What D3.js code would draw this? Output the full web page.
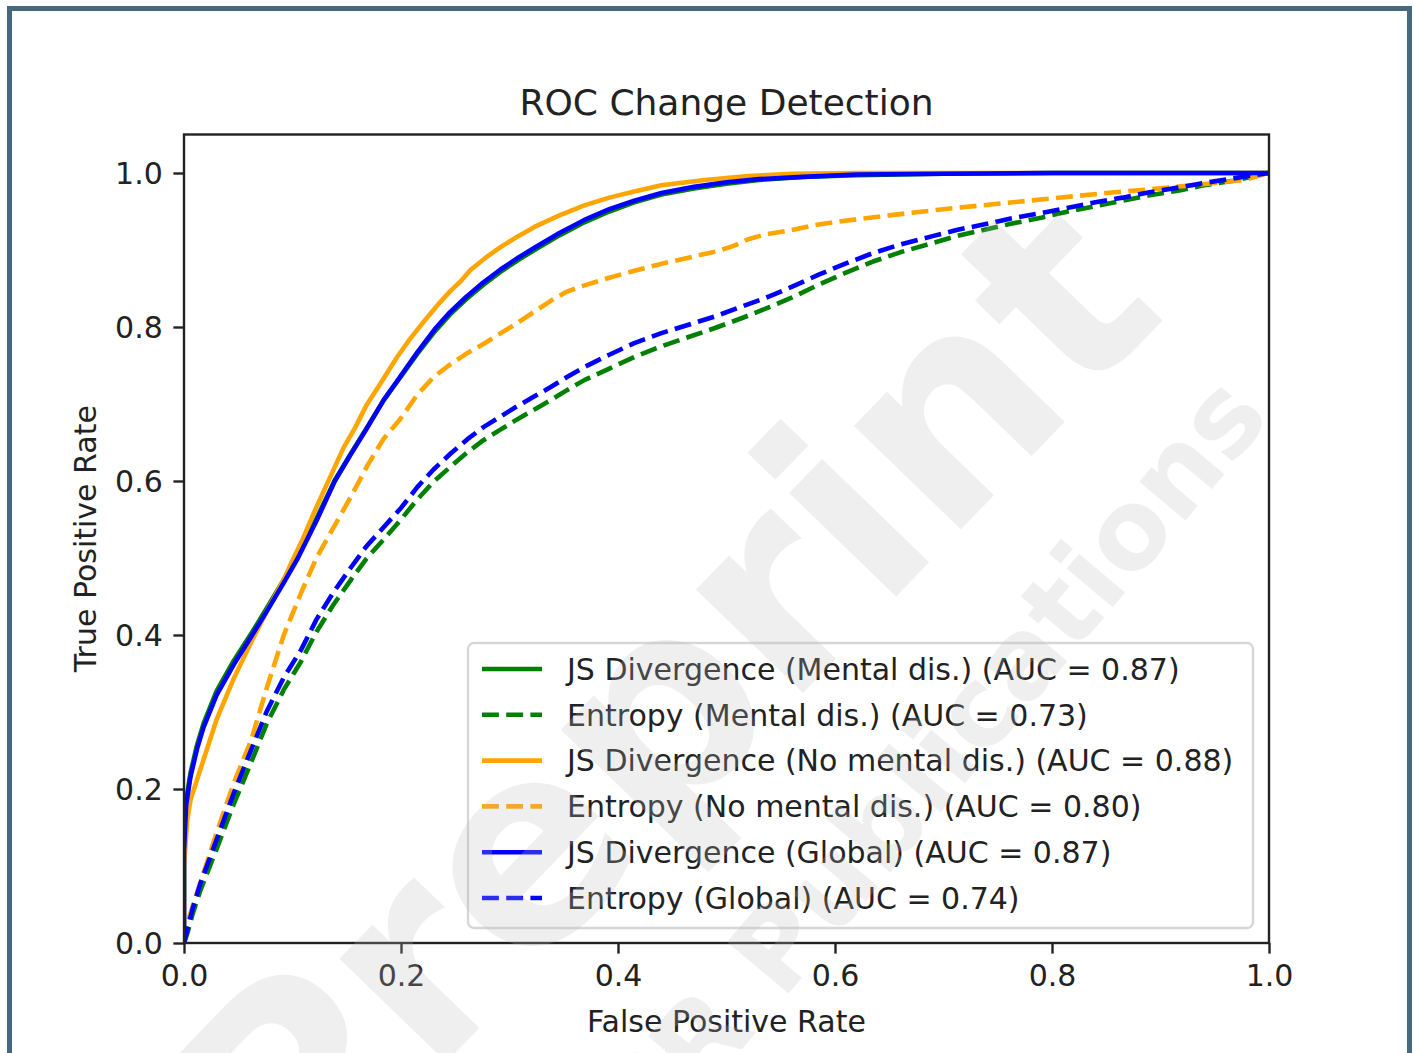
<!DOCTYPE html>
<html>
<head>
<meta charset="utf-8">
<script src="https://cdn.jsdelivr.net/npm/d3@7"></script>
<style>
  html, body { margin: 0; padding: 0; background: #ffffff; }
  svg { display: block; }
  text { font-family: "DejaVu Sans", sans-serif; fill: #222; }
</style>
</head>
<body>
<svg id="chart" width="1414" height="1053"></svg>
<script>
// ---------- data ----------
const chartTitle = "ROC Change Detection";
const xLabel = "False Positive Rate";
const yLabel = "True Positive Rate";
const xTicks = [0.0, 0.2, 0.4, 0.6, 0.8, 1.0];
const yTicks = [0.0, 0.2, 0.4, 0.6, 0.8, 1.0];

const seriesNames = [
  "JS Divergence (Mental dis.) (AUC = 0.87)",
  "Entropy (Mental dis.) (AUC = 0.73)",
  "JS Divergence (No mental dis.) (AUC = 0.88)",
  "Entropy (No mental dis.) (AUC = 0.80)",
  "JS Divergence (Global) (AUC = 0.87)",
  "Entropy (Global) (AUC = 0.74)"
];
const seriesColors = ["green", "green", "orange", "orange", "blue", "blue"];
const seriesDashed = [false, true, false, true, false, true];

const jsMental = [[0,0],[0,0.125],[0.002,0.185],[0.006,0.221],[0.012,0.257],[0.018,0.285],[0.030,0.327],[0.046,0.367],[0.062,0.402],[0.076,0.434],[0.092,0.472],[0.105,0.504],[0.122,0.551],[0.139,0.601],[0.153,0.634],[0.168,0.668],[0.184,0.705],[0.200,0.736],[0.215,0.765],[0.231,0.794],[0.245,0.816],[0.260,0.836],[0.276,0.855],[0.292,0.872],[0.308,0.887],[0.323,0.900],[0.346,0.919],[0.369,0.936],[0.392,0.950],[0.415,0.962],[0.44,0.972],[0.47,0.980],[0.50,0.986],[0.53,0.991],[0.57,0.995],[0.62,0.997],[0.70,0.999],[0.80,1.0],[1,1]];
const entMental = [[0,0],[0.003,0.012],[0.008,0.038],[0.015,0.068],[0.030,0.122],[0.046,0.181],[0.062,0.235],[0.076,0.284],[0.092,0.329],[0.108,0.366],[0.122,0.404],[0.138,0.44],[0.154,0.472],[0.168,0.499],[0.184,0.524],[0.200,0.55],[0.215,0.576],[0.230,0.599],[0.246,0.619],[0.261,0.637],[0.276,0.653],[0.292,0.667],[0.307,0.68],[0.323,0.693],[0.338,0.705],[0.353,0.718],[0.369,0.731],[0.392,0.746],[0.415,0.761],[0.44,0.775],[0.465,0.787],[0.49,0.799],[0.515,0.812],[0.54,0.826],[0.56,0.838],[0.585,0.855],[0.609,0.870],[0.635,0.885],[0.66,0.897],[0.69,0.909],[0.712,0.918],[0.74,0.927],[0.762,0.934],[0.79,0.942],[0.815,0.950],[0.84,0.957],[0.865,0.964],[0.89,0.971],[0.916,0.977],[0.94,0.984],[0.967,0.990],[1,1]];
const jsNoMental = [[0,0],[0,0.10],[0.003,0.16],[0.006,0.186],[0.012,0.212],[0.018,0.238],[0.030,0.29],[0.046,0.344],[0.062,0.391],[0.076,0.430],[0.092,0.472],[0.099,0.494],[0.108,0.52],[0.122,0.566],[0.135,0.606],[0.147,0.643],[0.158,0.670],[0.168,0.698],[0.184,0.733],[0.196,0.760],[0.208,0.784],[0.221,0.807],[0.234,0.829],[0.245,0.846],[0.256,0.861],[0.264,0.874],[0.278,0.890],[0.292,0.904],[0.308,0.918],[0.323,0.930],[0.346,0.945],[0.369,0.958],[0.392,0.968],[0.415,0.976],[0.44,0.984],[0.48,0.991],[0.52,0.996],[0.56,0.999],[0.62,1.0],[1,1]];
const entNoMental = [[0,0],[0.002,0.02],[0.006,0.039],[0.012,0.065],[0.018,0.091],[0.030,0.143],[0.046,0.208],[0.062,0.264],[0.076,0.33],[0.092,0.40],[0.108,0.455],[0.122,0.50],[0.138,0.54],[0.154,0.58],[0.169,0.62],[0.184,0.655],[0.199,0.68],[0.215,0.712],[0.230,0.735],[0.246,0.752],[0.261,0.766],[0.276,0.778],[0.292,0.792],[0.307,0.805],[0.323,0.82],[0.338,0.834],[0.353,0.846],[0.369,0.854],[0.392,0.864],[0.415,0.873],[0.44,0.882],[0.465,0.890],[0.49,0.898],[0.506,0.905],[0.52,0.914],[0.535,0.920],[0.56,0.926],[0.58,0.932],[0.609,0.938],[0.65,0.945],[0.70,0.953],[0.75,0.960],[0.80,0.967],[0.85,0.974],[0.90,0.980],[0.95,0.987],[0.977,0.991],[1,1]];
const jsGlobal = [[0,0],[0,0.12],[0.002,0.18],[0.006,0.216],[0.012,0.252],[0.018,0.28],[0.030,0.322],[0.046,0.362],[0.062,0.398],[0.076,0.430],[0.092,0.468],[0.105,0.50],[0.122,0.548],[0.139,0.60],[0.153,0.633],[0.168,0.667],[0.184,0.705],[0.200,0.737],[0.215,0.767],[0.231,0.797],[0.245,0.819],[0.260,0.839],[0.276,0.858],[0.292,0.875],[0.308,0.890],[0.323,0.903],[0.346,0.922],[0.369,0.939],[0.392,0.953],[0.415,0.964],[0.44,0.974],[0.47,0.982],[0.50,0.988],[0.53,0.992],[0.57,0.995],[0.62,0.998],[0.70,0.999],[0.80,1.0],[1,1]];
const entGlobal = [[0,0],[0.003,0.017],[0.008,0.045],[0.015,0.077],[0.030,0.134],[0.046,0.195],[0.062,0.251],[0.076,0.30],[0.092,0.345],[0.108,0.381],[0.122,0.42],[0.138,0.456],[0.154,0.488],[0.168,0.515],[0.184,0.54],[0.200,0.565],[0.215,0.592],[0.230,0.615],[0.246,0.636],[0.261,0.654],[0.276,0.670],[0.292,0.684],[0.307,0.697],[0.323,0.71],[0.338,0.722],[0.353,0.735],[0.369,0.748],[0.392,0.764],[0.415,0.779],[0.44,0.792],[0.465,0.803],[0.49,0.814],[0.515,0.827],[0.54,0.840],[0.56,0.852],[0.585,0.868],[0.609,0.882],[0.635,0.896],[0.66,0.907],[0.69,0.918],[0.712,0.926],[0.74,0.934],[0.762,0.941],[0.79,0.948],[0.815,0.955],[0.84,0.962],[0.865,0.968],[0.89,0.975],[0.916,0.981],[0.94,0.987],[0.967,0.993],[1,1]];

const seriesData = [jsMental, entMental, jsNoMental, entNoMental, jsGlobal, entGlobal];

// ---------- layout ----------
const svg = d3.select("#chart");
const W = 1414, H = 1053;
const plot = { left: 184, right: 1269, top: 134.5, bottom: 943 };
const x = d3.scaleLinear().domain([0, 1]).range([plot.left, plot.right]);
const y = d3.scaleLinear().domain([0, 1.05]).range([plot.bottom, plot.top]);

const LW = 4.6;          // line width (1.5pt)
const dash = [16.9, 7.3];
const fs = 30;

svg.append("rect").attr("x", 0).attr("y", 0).attr("width", W).attr("height", H).attr("fill", "#ffffff");

// clip
svg.append("defs").append("clipPath").attr("id", "clip")
  .append("rect").attr("x", plot.left).attr("y", plot.top)
  .attr("width", plot.right - plot.left).attr("height", plot.bottom - plot.top);

// lines
const line = d3.line().x(d => x(d[0])).y(d => y(d[1]));
const gLines = svg.append("g").attr("clip-path", "url(#clip)");
seriesData.forEach((data, i) => {
  gLines.append("path")
    .datum(data)
    .attr("d", line)
    .attr("fill", "none")
    .attr("stroke", seriesColors[i])
    .attr("stroke-width", LW)
    .attr("stroke-linejoin", "round")
    .attr("stroke-linecap", seriesDashed[i] ? "butt" : "square")
    .attr("stroke-dasharray", seriesDashed[i] ? dash.join(",") : null);
});

// axes
const xAxis = d3.axisBottom(x).tickValues(xTicks).tickFormat(d3.format(".1f")).tickSize(10.6).tickPadding(10.6);
const yAxis = d3.axisLeft(y).tickValues(yTicks).tickFormat(d3.format(".1f")).tickSize(10.6).tickPadding(10.6);

const gx = svg.append("g").attr("transform", `translate(0,${plot.bottom})`).call(xAxis);
const gy = svg.append("g").attr("transform", `translate(${plot.left},0)`).call(yAxis);
[gx, gy].forEach(g => {
  g.select(".domain").remove();
  g.selectAll(".tick line").attr("stroke", "#222").attr("stroke-width", 2.4);
  g.selectAll(".tick text").attr("font-size", fs).attr("font-family", "DejaVu Sans").attr("fill", "#222");
});
gx.selectAll(".tick text").attr("dy", "0.71em");
gy.selectAll(".tick text").attr("dy", "0.36em");

// spines
svg.append("rect")
  .attr("x", plot.left).attr("y", plot.top)
  .attr("width", plot.right - plot.left).attr("height", plot.bottom - plot.top)
  .attr("fill", "none").attr("stroke", "#222").attr("stroke-width", 2.4);

// title and labels
svg.append("text").attr("x", (plot.left + plot.right) / 2).attr("y", 115)
  .attr("text-anchor", "middle").attr("font-size", 36).text(chartTitle);
svg.append("text").attr("x", (plot.left + plot.right) / 2).attr("y", 1032)
  .attr("text-anchor", "middle").attr("font-size", fs).text(xLabel);
svg.append("text").attr("transform", `translate(96,${(plot.top + plot.bottom) / 2}) rotate(-90)`)
  .attr("text-anchor", "middle").attr("font-size", fs).text(yLabel);

// legend
const leg = { x: 468, y: 643, w: 785, h: 285 };
const gLeg = svg.append("g");
gLeg.append("rect").attr("x", leg.x).attr("y", leg.y).attr("width", leg.w).attr("height", leg.h)
  .attr("rx", 6).attr("ry", 6)
  .attr("fill", "#ffffff").attr("fill-opacity", 0.8)
  .attr("stroke", "#d6d6d6").attr("stroke-width", 2.4);
const rowY = d3.scaleLinear().domain([0, 5]).range([669, 898]);
seriesNames.forEach((name, i) => {
  const cy = rowY(i);
  gLeg.append("line").attr("x1", 482).attr("x2", 542).attr("y1", cy).attr("y2", cy)
    .attr("stroke", seriesColors[i]).attr("stroke-width", LW)
    .attr("stroke-dasharray", seriesDashed[i] ? dash.join(",") : null);
  gLeg.append("text").attr("x", 567).attr("y", cy).attr("dy", "0.36em")
    .attr("font-size", fs).text(name);
});

// watermark (runs off the page edge, as in the reference)
const gWm = svg.append("g").attr("pointer-events", "none");
gWm.append("text")
  .attr("transform", "translate(292,1222) rotate(-46)")
  .attr("font-size", 272).attr("font-weight", "bold")
  .style("fill", "#bdbdbd").style("fill-opacity", 0.24)
  .text("Preprint");
gWm.append("text")
  .attr("transform", "translate(580,1242) rotate(-50)")
  .attr("font-size", 110).attr("font-weight", "bold")
  .style("fill", "#bdbdbd").style("fill-opacity", 0.24)
  .text("JMIR Publications");

// outer frame
svg.append("rect").attr("x", 9.5).attr("y", 8.5).attr("width", 1400).attr("height", 1100)
  .attr("fill", "none").attr("stroke", "#456a80").attr("stroke-width", 5);
</script>
</body>
</html>
